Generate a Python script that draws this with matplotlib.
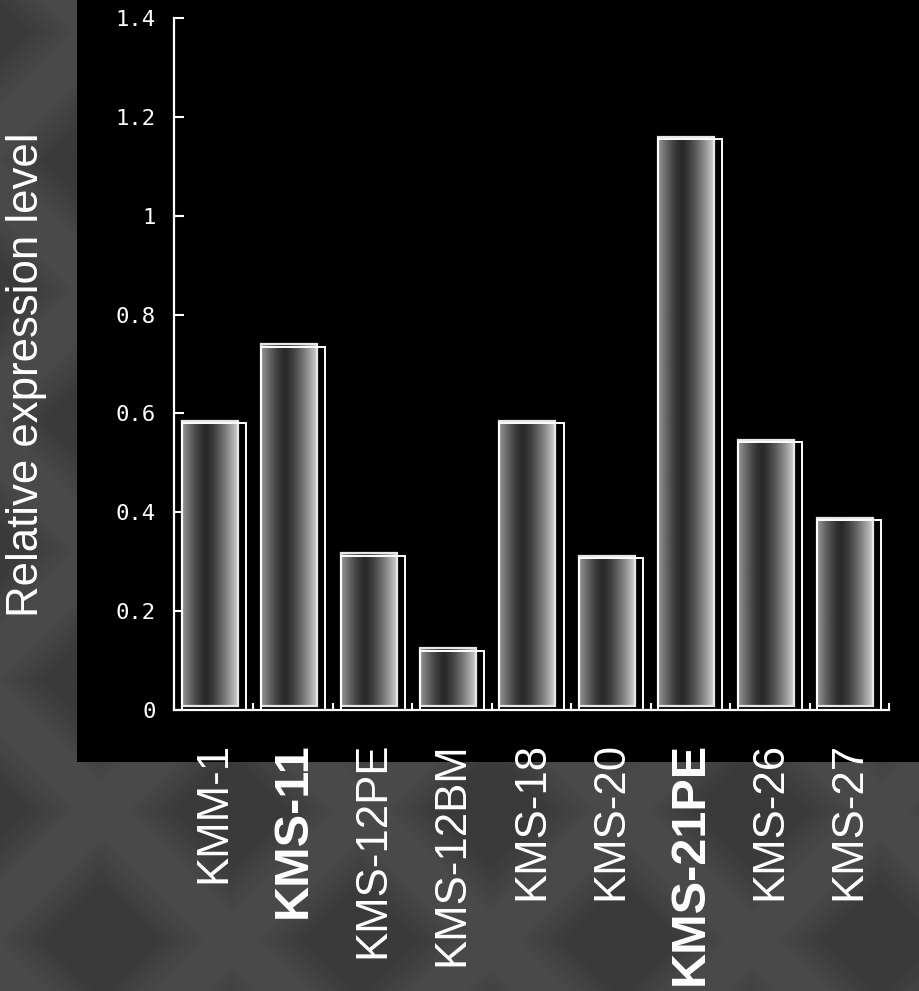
# bar chart of relative expression levels, dark slide style
import numpy as np
import matplotlib as mpl
mpl.use('Agg')
import matplotlib.pyplot as plt

# data
cell_lines = ['KMM-1', 'KMS-11', 'KMS-12PE', 'KMS-12BM', 'KMS-18',
              'KMS-20', 'KMS-21PE', 'KMS-26', 'KMS-27']
expression = [0.58, 0.735, 0.312, 0.12, 0.58, 0.307, 1.155, 0.542, 0.384]
bold_labels = ['KMS-11', 'KMS-21PE']
y_ticks = [0, 0.2, 0.4, 0.6, 0.8, 1.0, 1.2, 1.4]
y_tick_labels = ['0', '0.2', '0.4', '0.6', '0.8', '1', '1.2', '1.4']

W, H = 920, 991
fig = plt.figure(figsize=(W / 100, H / 100), dpi=100)
fig.patch.set_facecolor('#3b3e40')

# woven-looking background texture (decoration only)
bg = fig.add_axes([0, 0, 1, 1], zorder=-10)
yy, xx = np.mgrid[0:H:2, 0:W:2]
u = np.abs(((xx + yy) % 260) - 130) / 130.0
v = np.abs(((xx - yy + 60) % 260) - 130) / 130.0
tex = 0.23 + 0.06 * np.clip(1.4 - 2.4 * np.minimum(u, v), 0, 1)
bg.imshow(tex, cmap='gray', vmin=0, vmax=1, aspect='auto', extent=(0, 1, 0, 1))
bg.set_axis_off()

# black panel behind the chart
panel = fig.add_axes([77 / W, 1 - 762 / H, 1 - 77 / W, 762 / H], zorder=-5)
panel.set_facecolor('black')
panel.set_xticks([])
panel.set_yticks([])
for s in panel.spines.values():
    s.set_visible(False)

ax = fig.add_axes([174 / W, 1 - 710 / H, (889 - 174) / W, (710 - 18) / H])
ax.set_facecolor('none')

x = np.arange(len(cell_lines))

# shaded (cylinder) fill for each bar
t = np.linspace(0, 1, 120)
d = np.abs(t - 0.42) / 0.58
shade = (0.16 + 0.68 * d ** 1.4)[None, :]
front_w = 0.705
back_w = 0.806
for xi, val in zip(x, expression):
    x0 = xi - back_w / 2
    ax.imshow(shade, cmap='gray', vmin=0, vmax=1, aspect='auto',
              extent=(x0, x0 + front_w, 0.008, val + 0.005),
              interpolation='bilinear', zorder=2)
ax.bar(x - back_w / 2, [v - 0.003 for v in expression], width=front_w,
       bottom=0.008, align='edge', facecolor='none', edgecolor='#e6e6e6',
       linewidth=1.6, zorder=3)
ax.bar(x, expression, width=back_w, facecolor='none', edgecolor='white',
       linewidth=1.4, zorder=3)

ax.set_xlim(-0.5, len(cell_lines) - 0.5)
ax.set_ylim(0, 1.4)

for side in ['top', 'right']:
    ax.spines[side].set_visible(False)
for side in ['left', 'bottom']:
    ax.spines[side].set_color('white')
    ax.spines[side].set_linewidth(1.6)

ax.set_yticks(y_ticks)
ax.set_yticklabels(y_tick_labels, family='DejaVu Sans Mono', fontsize=16,
                   color='white')
ax.tick_params(axis='y', direction='in', length=7, width=1.5,
               color='white', pad=13)

ax.set_xticks(x)
ax.set_xticklabels(cell_lines, rotation=90, va='top', ha='center',
                   family='Liberation Sans', fontsize=31.5, color='white')
ax.tick_params(axis='x', which='major', length=0, pad=23)
ax.set_xticks(np.arange(-0.5, len(cell_lines), 1), minor=True)
ax.tick_params(axis='x', which='minor', direction='in', length=5, width=1.5,
               color='white')
for lab in ax.get_xticklabels():
    if lab.get_text() in bold_labels:
        lab.set_fontweight('bold')
        lab.set_fontsize(35)

fig.text(27 / W, 1 - 375 / H, 'Relative expression level', rotation=90,
         ha='center', va='center', family='Liberation Sans', fontsize=31.5,
         color='white')

fig.savefig('out.png', dpi=100, facecolor=fig.get_facecolor())
